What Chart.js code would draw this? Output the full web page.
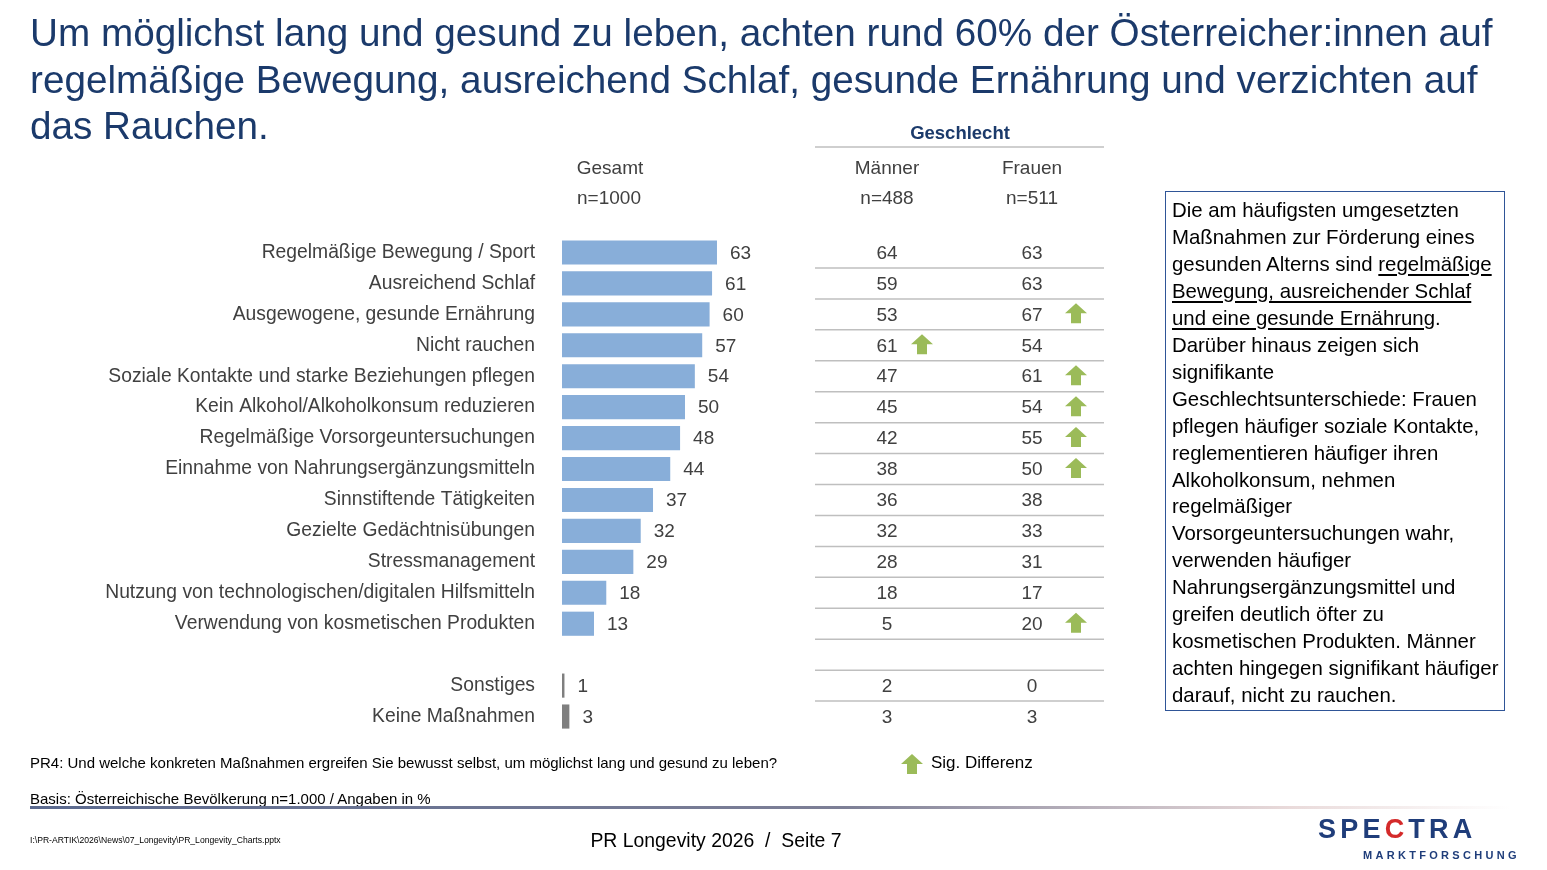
<!DOCTYPE html>
<html><head><meta charset="utf-8">
<script src="https://cdn.jsdelivr.net/npm/chart.js@4.4.1/dist/chart.umd.min.js"></script>
<style>
html,body{margin:0;padding:0;background:#fff;}
body{width:1547px;height:870px;position:relative;overflow:hidden;font-family:"Liberation Sans",Arial,sans-serif;}
#c{position:absolute;left:0;top:0;}
.t{position:absolute;white-space:nowrap;}
#title{left:30px;top:10px;font-size:38.7px;line-height:46.5px;color:#1B3A6B;}
.hdr{font-size:19px;color:#404040;transform:translateX(-50%);}
#box{position:absolute;left:1165px;top:191px;width:338px;height:518px;border:1.5px solid #2F5597;}
#boxtxt{position:absolute;left:6px;top:5px;font-size:20.4px;line-height:26.95px;color:#000;white-space:nowrap;}
#boxtxt u{text-decoration-thickness:1.5px;text-underline-offset:3px;}
.note{font-size:15px;color:#000;}
#rule{position:absolute;left:30px;top:806px;width:1480px;height:3px;background:linear-gradient(to right,#5b6a8f 0%,#7d7f96 55%,#e9dada 85%,#ffffff 100%);}
</style></head><body>
<canvas id="c" width="1547" height="870"></canvas>
<div id="title" class="t">Um möglichst lang und gesund zu leben, achten rund 60% der Österreicher:innen auf<br>regelmäßige Bewegung, ausreichend Schlaf, gesunde Ernährung und verzichten auf<br>das Rauchen.</div>
<div class="t" style="left:960px;top:122px;font-size:18.5px;font-weight:bold;color:#1B3A6B;transform:translateX(-50%);">Geschlecht</div>
<div class="t hdr" style="left:610px;top:157px;">Gesamt</div>
<div class="t hdr" style="left:609px;top:187px;">n=1000</div>
<div class="t hdr" style="left:887px;top:157px;">Männer</div>
<div class="t hdr" style="left:887px;top:187px;">n=488</div>
<div class="t hdr" style="left:1032px;top:157px;">Frauen</div>
<div class="t hdr" style="left:1032px;top:187px;">n=511</div>
<div id="box"><div id="boxtxt">Die am häufigsten umgesetzten<br>Maßnahmen zur Förderung eines<br>gesunden Alterns sind <u>regelmäßige</u><br><u>Bewegung, ausreichender Schlaf</u><br><u>und eine gesunde Ernährung</u>.<br>Darüber hinaus zeigen sich<br>signifikante<br>Geschlechtsunterschiede: Frauen<br>pflegen häufiger soziale Kontakte,<br>reglementieren häufiger ihren<br>Alkoholkonsum, nehmen<br>regelmäßiger<br>Vorsorgeuntersuchungen wahr,<br>verwenden häufiger<br>Nahrungsergänzungsmittel und<br>greifen deutlich öfter zu<br>kosmetischen Produkten. Männer<br>achten hingegen signifikant häufiger<br>darauf, nicht zu rauchen.</div></div>
<div class="t note" style="left:30px;top:754px;">PR4: Und welche konkreten Maßnahmen ergreifen Sie bewusst selbst, um möglichst lang und gesund zu leben?</div>
<div class="t" style="left:931px;top:753px;font-size:17px;color:#000;">Sig. Differenz</div>
<div class="t note" style="left:30px;top:790px;">Basis: Österreichische Bevölkerung n=1.000 / Angaben in %</div>
<div id="rule"></div>
<div class="t" style="left:30px;top:835px;font-size:8.6px;color:#000;">I:\PR-ARTIK\2026\News\07_Longevity\PR_Longevity_Charts.pptx</div>
<div class="t" style="left:716px;top:829px;font-size:19.4px;color:#000;transform:translateX(-50%);">PR Longevity 2026&nbsp; / &nbsp;Seite 7</div>
<div class="t" style="left:1318px;top:814px;font-size:27px;font-weight:bold;color:#1F3D7A;letter-spacing:4.2px;">SPE<span style="color:#D42A2A;">C</span>TRA</div>
<div class="t" style="left:1363px;top:849px;font-size:11px;font-weight:bold;color:#1F3D7A;letter-spacing:3.3px;">MARKTFORSCHUNG</div>
<script>
const categories = [
  "Regelmäßige Bewegung / Sport",
  "Ausreichend Schlaf",
  "Ausgewogene, gesunde Ernährung",
  "Nicht rauchen",
  "Soziale Kontakte und starke Beziehungen pflegen",
  "Kein Alkohol/Alkoholkonsum reduzieren",
  "Regelmäßige Vorsorgeuntersuchungen",
  "Einnahme von Nahrungsergänzungsmitteln",
  "Sinnstiftende Tätigkeiten",
  "Gezielte Gedächtnisübungen",
  "Stressmanagement",
  "Nutzung von technologischen/digitalen Hilfsmitteln",
  "Verwendung von kosmetischen Produkten",
  "",
  "Sonstiges",
  "Keine Maßnahmen"
];
const gesamt = [63,61,60,57,54,50,48,44,37,32,29,18,13,null,1,3];
const maenner = [64,59,53,61,47,45,42,38,36,32,28,18,5,null,2,3];
const frauen = [63,63,67,54,61,54,55,50,38,33,31,17,20,null,0,3];
const sigMaenner = [0,0,0,1,0,0,0,0,0,0,0,0,0,0,0,0];
const sigFrauen  = [0,0,1,0,1,1,1,1,0,0,0,0,1,0,0,0];
const barColors = gesamt.map((v,i)=> i>13 ? '#7F7F7F' : '#88AED9');

const COL_M = 887, COL_F = 1032, TABLE_L = 815, TABLE_R = 1104;

function arrow(ctx, cx, cy){
  ctx.save();
  ctx.fillStyle = '#9BBB59';
  ctx.beginPath();
  ctx.moveTo(cx, cy-10);
  ctx.lineTo(cx+11, cy);
  ctx.lineTo(cx+5, cy);
  ctx.lineTo(cx+5, cy+10);
  ctx.lineTo(cx-5, cy+10);
  ctx.lineTo(cx-5, cy);
  ctx.lineTo(cx-11, cy);
  ctx.closePath();
  ctx.fill();
  ctx.restore();
}

const tablePlugin = {
  id:'tablePlugin',
  afterDatasetsDraw(chart){
    const ctx = chart.ctx, xs = chart.scales.x, ys = chart.scales.y;
    const step = ys.getPixelForValue(1) - ys.getPixelForValue(0);
    ctx.save();
    ctx.font = '19px "Liberation Sans", Arial, sans-serif';
    ctx.fillStyle = '#404040';
    ctx.textBaseline = 'middle';
    ctx.strokeStyle = '#BFBFBF'; ctx.lineWidth = 1.5;
    ctx.beginPath(); ctx.moveTo(TABLE_L,147); ctx.lineTo(TABLE_R,147); ctx.stroke();
    categories.forEach((c,i)=>{
      const y = ys.getPixelForValue(i);
      if (gesamt[i] !== null){
        ctx.textAlign = 'left';
        ctx.fillText(String(gesamt[i]), xs.getPixelForValue(gesamt[i]) + 13, y + 1);
      }
      ctx.textAlign = 'center';
      if (maenner[i] !== null) ctx.fillText(String(maenner[i]), COL_M, y + 1);
      if (frauen[i] !== null) ctx.fillText(String(frauen[i]), COL_F, y + 1);
      if (sigMaenner[i]) arrow(ctx, COL_M + 35, y - 1);
      if (sigFrauen[i]) arrow(ctx, COL_F + 44, y - 1);
      if (i < categories.length - 1){
        const ly = y + step/2;
        ctx.beginPath(); ctx.moveTo(TABLE_L, ly); ctx.lineTo(TABLE_R, ly); ctx.stroke();
      }
    });
    arrow(ctx, 912, 764);
    ctx.restore();
  }
};

new Chart(document.getElementById('c'), {
  type:'bar',
  data:{ labels: categories, datasets:[{ data: gesamt, backgroundColor: barColors, borderWidth:0, barPercentage:0.78, categoryPercentage:1 }]},
  options:{
    indexAxis:'y', responsive:false, animation:false,
    layout:{ padding:{ left:0, right:739, top:237, bottom:138 } },
    plugins:{ legend:{display:false}, tooltip:{enabled:false} },
    scales:{
      x:{ display:false, min:0, max:100 },
      y:{ grid:{display:false, drawTicks:false}, border:{display:false},
          ticks:{ color:'#404040', padding:27, font:{ family:'"Liberation Sans", Arial, sans-serif', size:19.3 } },
          afterFit(s){ s.width = 562; } }
    }
  },
  plugins:[tablePlugin]
});
</script>
</body></html>
